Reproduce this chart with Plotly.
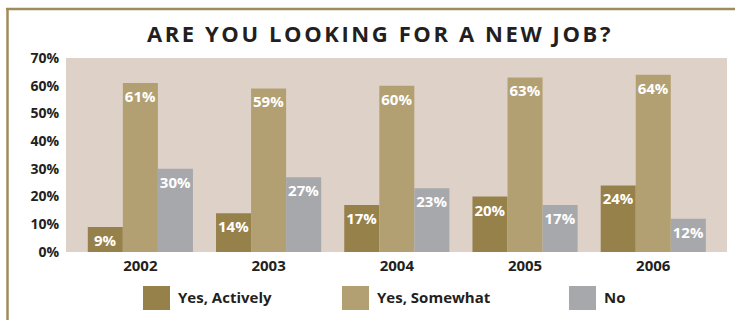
import plotly.graph_objects as go

years = ["2002", "2003", "2004", "2005", "2006"]
series_names = ["Yes, Actively", "Yes, Somewhat", "No"]
actively = [9, 14, 17, 20, 24]
somewhat = [61, 59, 60, 63, 64]
no = [30, 27, 23, 17, 12]
y_ticks = [0, 10, 20, 30, 40, 50, 60, 70]
y_tick_labels = ["0%", "10%", "20%", "30%", "40%", "50%", "60%", "70%"]
title_text = "ARE YOU LOOKING FOR A NEW JOB?"

colors = ["#97814a", "#b3a072", "#a7a8ab"]
FONT = "Open Sans"
DARK = "#231f20"

W, H = 735, 320
L, R, T, B = 66, 8, 58, 68
pw, ph = W - L - R, H - T - B


def px2x(px):
    return (px - L) / pw


def px2y(py):
    return (H - B - py) / ph


def spaced(s, sp):
    return f'<span style="letter-spacing:{sp}px">{s}</span>'


fig = go.Figure()
for name, vals, col in zip(series_names, [actively, somewhat, no], colors):
    fig.add_trace(go.Bar(
        x=years, y=vals, name=name, marker=dict(color=col, line=dict(width=0)),
        text=[f"{v}%" for v in vals], textposition="inside", insidetextanchor="end",
        textangle=0,
        textfont=dict(family=FONT, size=15, color="white", weight="bold"),
        constraintext="none", showlegend=False, hoverinfo="skip",
    ))

# legend (drawn manually as swatches + labels)
legend_x = [143, 342, 569]
for i, (name, col) in enumerate(zip(series_names, colors)):
    x0 = legend_x[i]
    fig.add_shape(type="rect", xref="paper", yref="paper",
                  x0=px2x(x0), x1=px2x(x0 + 27), y0=px2y(310), y1=px2y(286),
                  fillcolor=col, line=dict(width=0))
    fig.add_annotation(xref="paper", yref="paper", x=px2x(x0 + 33), y=px2y(297),
                       xanchor="left", yanchor="middle", showarrow=False, text=name,
                       font=dict(family=FONT, size=15, color=DARK, weight="bold"))

# frame lines
border = "#a08c5b"
fig.add_shape(type="line", xref="paper", yref="paper",
              x0=px2x(6), x1=px2x(740), y0=px2y(9), y1=px2y(9),
              line=dict(color=border, width=2.5))
fig.add_shape(type="line", xref="paper", yref="paper",
              x0=px2x(7.5), x1=px2x(7.5), y0=px2y(8), y1=px2y(330),
              line=dict(color=border, width=2.5))

fig.update_layout(
    width=W, height=H,
    margin=dict(l=L, r=R, t=T, b=B),
    paper_bgcolor="white", plot_bgcolor="#ded2c8",
    barmode="group", bargap=0.18, bargroupgap=0,
    title=dict(text=spaced(title_text, 2.6), xref="paper", x=px2x(380), xanchor="center",
               yref="container", y=1 - 34 / H, yanchor="middle",
               font=dict(family=FONT, size=22, color=DARK, weight="bold")),
    xaxis=dict(range=[-0.58, 4.575], showgrid=False, zeroline=False, showline=False,
               ticks="", ticklabelstandoff=3,
               tickfont=dict(family=FONT, size=15, color=DARK, weight="bold")),
    yaxis=dict(range=[0, 70], tickvals=y_ticks, ticktext=y_tick_labels,
               showgrid=False, zeroline=False, showline=False, ticks="",
               ticklabelstandoff=6,
               tickfont=dict(family=FONT, size=14, color=DARK, weight="bold")),
)

fig.write_html("out.html")
